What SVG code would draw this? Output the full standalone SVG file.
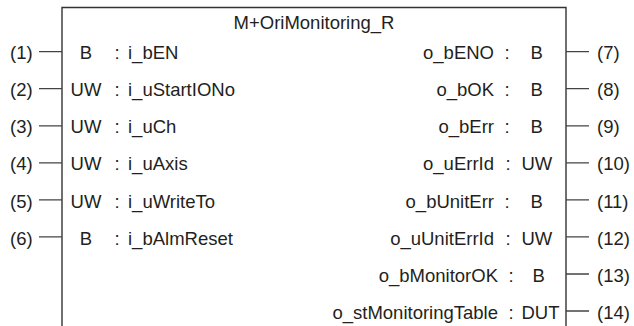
<svg xmlns="http://www.w3.org/2000/svg" width="634" height="326" viewBox="0 0 634 326">
<style>
text{font-family:"Liberation Sans",Arial,sans-serif;font-size:18.5px;fill:#231f20}
.m{text-anchor:middle}.e{text-anchor:end}
.box{fill:none;stroke:#333;stroke-width:1.4}
.w{stroke:#444;stroke-width:1.3;fill:none}
</style>
<rect width="634" height="326" fill="#fff"/>
<g id="block">
<path class="box" d="M62,326V7.5H566V326"/>
<text class="m" x="314" y="28.5">M+OriMonitoring_R</text>
</g>
<g id="connectors">
<path class="w" d="M39,51.7H62M39,88.7H62M39,125.8H62M39,162.8H62M39,199.9H62M39,236.9H62"/>
<path class="w" d="M566,51.7H589M566,88.7H589M566,125.8H589M566,162.8H589M566,199.9H589M566,236.9H589M566,274H589M566,311H589"/>
</g>
<g id="in1"><text x="10" y="59.3">(1)</text><text class="m" x="86" y="59.3">B</text><text class="m" x="117" y="59.3">:</text><text x="128" y="59.3">i_bEN</text></g>
<g id="in2"><text x="10" y="96.3">(2)</text><text class="m" x="86" y="96.3">UW</text><text class="m" x="117" y="96.3">:</text><text x="128" y="96.3">i_uStartIONo</text></g>
<g id="in3"><text x="10" y="133.4">(3)</text><text class="m" x="86" y="133.4">UW</text><text class="m" x="117" y="133.4">:</text><text x="128" y="133.4">i_uCh</text></g>
<g id="in4"><text x="10" y="170.4">(4)</text><text class="m" x="86" y="170.4">UW</text><text class="m" x="117" y="170.4">:</text><text x="128" y="170.4">i_uAxis</text></g>
<g id="in5"><text x="10" y="207.5">(5)</text><text class="m" x="86" y="207.5">UW</text><text class="m" x="117" y="207.5">:</text><text x="128" y="207.5">i_uWriteTo</text></g>
<g id="in6"><text x="10" y="244.5">(6)</text><text class="m" x="86" y="244.5">B</text><text class="m" x="117" y="244.5">:</text><text x="128" y="244.5">i_bAlmReset</text></g>
<g id="out7"><text class="e" x="494" y="59.3">o_bENO</text><text class="m" x="507" y="59.3">:</text><text x="530.5" y="59.3">B</text><text x="597" y="59.3">(7)</text></g>
<g id="out8"><text class="e" x="494" y="96.3">o_bOK</text><text class="m" x="507" y="96.3">:</text><text x="530.5" y="96.3">B</text><text x="597" y="96.3">(8)</text></g>
<g id="out9"><text class="e" x="494" y="133.4">o_bErr</text><text class="m" x="507" y="133.4">:</text><text x="530.5" y="133.4">B</text><text x="597" y="133.4">(9)</text></g>
<g id="out10"><text class="e" x="494" y="170.4">o_uErrId</text><text class="m" x="508" y="170.4">:</text><text x="521.5" y="170.4">UW</text><text x="597" y="170.4">(10)</text></g>
<g id="out11"><text class="e" x="494" y="207.5">o_bUnitErr</text><text class="m" x="507" y="207.5">:</text><text x="530.5" y="207.5">B</text><text x="597" y="207.5">(11)</text></g>
<g id="out12"><text class="e" x="494" y="244.5">o_uUnitErrId</text><text class="m" x="508" y="244.5">:</text><text x="521.5" y="244.5">UW</text><text x="597" y="244.5">(12)</text></g>
<g id="out13"><text class="e" x="498" y="281.6">o_bMonitorOK</text><text class="m" x="511" y="281.6">:</text><text x="532.5" y="281.6">B</text><text x="597" y="281.6">(13)</text></g>
<g id="out14"><text class="e" x="498" y="318.6">o_stMonitoringTable</text><text class="m" x="511" y="318.6">:</text><text x="521.5" y="318.6">DUT</text><text x="597" y="318.6">(14)</text></g>
</svg>
